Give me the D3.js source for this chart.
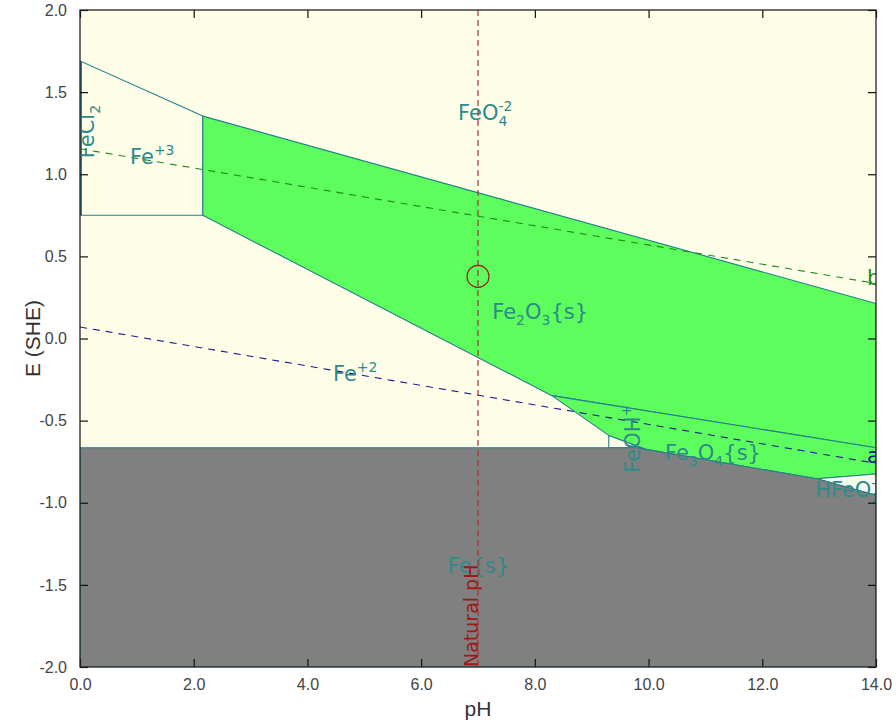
<!DOCTYPE html>
<html>
<head>
<meta charset="utf-8">
<script src="https://cdn.jsdelivr.net/npm/d3@7"></script>
<style>
  html, body { margin: 0; padding: 0; background: #ffffff; }
  svg { display: block; }
</style>
</head>
<body>
<svg id="chart" width="896" height="720"></svg>
<script>
// Pourbaix (E–pH) diagram for iron in water

// Axis ticks
const pHTicks = [0, 2, 4, 6, 8, 10, 12, 14];
const eTicks = [-2.0, -1.5, -1.0, -0.5, 0.0, 0.5, 1.0, 1.5, 2.0];

// Stability domains, as [pH, E] vertices
const regionFe3 = [[0, 1.69], [2.16, 1.354], [2.16, 0.75], [0, 0.75]];
const regionFe2O3 = [[2.16, 1.354], [14, 0.213], [14, -0.665], [8.3, -0.348], [2.16, 0.75]];
const regionFe3O4 = [[8.3, -0.348], [14, -0.665], [14, -0.825], [12.96, -0.854], [9.95, -0.675], [9.3, -0.59]];
const regionFeOH = [[9.3, -0.59], [9.95, -0.675], [9.8, -0.665], [9.3, -0.665]];
const regionHFeO2 = [[12.96, -0.854], [14, -0.825], [14, -0.955]];
const regionFe = [[0, -0.665], [9.8, -0.665], [9.95, -0.675], [12.96, -0.854], [14, -0.955], [14, -2], [0, -2]];
const regionFeCl2 = [[0, 1.69], [0, 0.75]];

// Water stability lines: a (H2/H2O) and b (O2/H2O)
const waterLineA = [[0, 0.07], [14, -0.76]];
const waterLineB = [[0, 1.155], [14, 0.335]];

// Natural pH marker and the operating point
const naturalPH = 7.0;
const operatingPoint = [7.0, 0.378];

// Species labels: parts are [text, kind] with kind n/sub/sup/supover
const speciesLabels = [
  { at: [6.65, 1.33], parts: [["FeO", "n"], ["4", "sub"], ["-2", "supover"]] },
  { at: [0.88, 1.06], parts: [["Fe", "n"], ["+3", "sup"]] },
  { at: [7.25, 0.12], parts: [["Fe", "n"], ["2", "sub"], ["O", "n"], ["3", "sub"], ["{s}", "n"]] },
  { at: [4.45, -0.26], parts: [["Fe", "n"], ["+2", "sup"]] },
  { at: [10.29, -0.74], parts: [["Fe", "n"], ["3", "sub"], ["O", "n"], ["4", "sub"], ["{s}", "n"]] },
  { at: [12.93, -0.963], parts: [["HFeO", "n"], ["2", "sub"], ["-", "supover"]] },
  { at: [6.47, -1.43], parts: [["Fe{s}", "n"]] },
  { at: [9.85, -0.817], rotate: true, parts: [["FeOH", "n"], ["+", "sup"]] },
  { at: [0.25, 1.098], rotate: true, parts: [["FeCl", "n"], ["2", "sub"]] }
];
const lineLabels = [
  { at: [13.84, -0.756], text: "a", color: "#1c1c8c" },
  { at: [13.84, 0.323], text: "b", color: "#1d8a1d" }
];

const margin = { left: 80, right: 20, top: 10, bottom: 53 };
const W = 896, H = 720;
const svg = d3.select("#chart");

const x = d3.scaleLinear().domain([0, 14]).range([margin.left, W - margin.right]);
const y = d3.scaleLinear().domain([-2, 2]).range([H - margin.bottom, margin.top]);

const teal = "#25808a";
const textTeal = "#2f8a8a";
const labelFont = "DejaVu Sans, sans-serif";
const axisFont = "Liberation Sans, Arial, sans-serif";

svg.append("defs").append("clipPath").attr("id", "plotClip")
  .append("rect")
  .attr("x", x(0)).attr("y", y(2))
  .attr("width", x(14) - x(0)).attr("height", y(-2) - y(2));

const plot = svg.append("g").attr("clip-path", "url(#plotClip)");

// background domain (FeO4-2)
plot.append("rect")
  .attr("x", x(0)).attr("y", y(2))
  .attr("width", x(14) - x(0)).attr("height", y(-2) - y(2))
  .attr("fill", "#fefee8");

const poly = d3.line().x(d => x(d[0])).y(d => y(d[1])).curve(d3.curveLinearClosed);
const path = d3.line().x(d => x(d[0])).y(d => y(d[1]));

const regions = [
  [regionFe3, "#fefee8"],
  [regionFe2O3, "#5cfd5c"],
  [regionFe3O4, "#5cfd5c"],
  [regionFeOH, "#fefee8"],
  [regionHFeO2, "#f3fbee"],
  [regionFe, "#808080"]
];
regions.forEach(([pts, fill]) => {
  plot.append("path")
    .attr("d", poly(pts))
    .attr("fill", fill)
    .attr("stroke", teal)
    .attr("stroke-width", 1.1)
    .attr("stroke-linejoin", "round");
});

plot.append("path")
  .attr("d", path(regionFeCl2))
  .attr("stroke", teal)
  .attr("stroke-width", 4)
  .attr("fill", "none");

// water lines
plot.append("path").attr("d", path(waterLineB))
  .attr("stroke", "#1d8a1d").attr("stroke-width", 1.1)
  .attr("stroke-dasharray", "7,6").attr("fill", "none");
plot.append("path").attr("d", path(waterLineA))
  .attr("stroke", "#1c1c8c").attr("stroke-width", 1.1)
  .attr("stroke-dasharray", "7,6").attr("fill", "none");

// species labels with sub/superscripts
function addLabel(g, lab) {
  const px = x(lab.at[0]), py = y(lab.at[1]);
  const t = g.append("text")
    .attr("font-family", labelFont)
    .attr("font-size", 21)
    .attr("fill", textTeal)
    .attr("transform", lab.rotate ? `translate(${px},${py}) rotate(-90)` : `translate(${px},${py})`);
  lab.parts.forEach(([txt, kind]) => {
    const ts = t.append("tspan").text(txt).attr("data-kind", kind);
    if (kind !== "n") ts.attr("font-size", 14);
  });
  const spans = t.selectAll("tspan").nodes();
  let level = 0;
  spans.forEach((node, i) => {
    const kind = node.getAttribute("data-kind");
    let target = 0;
    if (kind === "sub") target = 6;
    else if (kind === "sup" || kind === "supover") target = -9;
    node.setAttribute("dy", target - level);
    level = target;
    if (kind === "supover" && i > 0) {
      const prev = spans[i - 1];
      if (prev.getAttribute("data-kind") === "sub") {
        node.setAttribute("dx", -prev.getComputedTextLength());
      }
    }
  });
}
speciesLabels.forEach(lab => addLabel(plot, lab));

lineLabels.forEach(l => {
  plot.append("text")
    .attr("x", x(l.at[0])).attr("y", y(l.at[1]))
    .attr("font-family", labelFont)
    .attr("font-size", 21)
    .attr("fill", l.color)
    .text(l.text);
});

// natural pH line and marker
plot.append("line")
  .attr("x1", x(naturalPH)).attr("x2", x(naturalPH))
  .attr("y1", y(2)).attr("y2", y(-2))
  .attr("stroke", "#a83232").attr("stroke-width", 1.2)
  .attr("stroke-dasharray", "6,4");
plot.append("circle")
  .attr("cx", x(operatingPoint[0])).attr("cy", y(operatingPoint[1]))
  .attr("r", 11)
  .attr("fill", "none").attr("stroke", "#9a1a1a").attr("stroke-width", 1.1);
plot.append("text")
  .attr("transform", `translate(${x(naturalPH)},${y(-2)}) rotate(-90)`)
  .attr("font-family", labelFont)
  .attr("font-size", 19)
  .attr("fill", "#a01818")
  .text("Natural pH");

// frame and axes
const axisG = svg.append("g");
const fmt = v => d3.format(".1f")(v).replace("\u2212", "-");
const xAxis = axisG.append("g")
  .attr("transform", `translate(0,${y(-2)})`)
  .call(d3.axisBottom(x).tickValues(pHTicks).tickFormat(fmt).tickSizeInner(-8).tickSizeOuter(0).tickPadding(12));
const xTop = axisG.append("g")
  .attr("transform", `translate(0,${y(2)})`)
  .call(d3.axisTop(x).tickValues(pHTicks).tickFormat("").tickSizeInner(-8).tickSizeOuter(0));
const yAxis = axisG.append("g")
  .attr("transform", `translate(${x(0)},0)`)
  .call(d3.axisLeft(y).tickValues(eTicks).tickFormat(fmt).tickSizeInner(-8).tickSizeOuter(0).tickPadding(13));
const yRight = axisG.append("g")
  .attr("transform", `translate(${x(14)},0)`)
  .call(d3.axisRight(y).tickValues(eTicks).tickFormat("").tickSizeInner(-8).tickSizeOuter(0));

[xAxis, xTop, yAxis, yRight].forEach(g => {
  g.select(".domain").remove();
  g.selectAll(".tick line").attr("stroke", "#111").attr("stroke-width", 1.2);
  g.selectAll(".tick text")
    .attr("font-family", axisFont)
    .attr("font-size", 16)
    .attr("fill", "#444");
});

axisG.append("rect")
  .attr("x", x(0)).attr("y", y(2))
  .attr("width", x(14) - x(0)).attr("height", y(-2) - y(2))
  .attr("fill", "none").attr("stroke", "#222").attr("stroke-width", 1.3);

svg.append("text")
  .attr("x", (x(0) + x(14)) / 2).attr("y", 716)
  .attr("text-anchor", "middle")
  .attr("font-family", axisFont)
  .attr("font-size", 21)
  .attr("fill", "#333")
  .text("pH");

svg.append("text")
  .attr("transform", `translate(${40},${(y(2) + y(-2)) / 2}) rotate(-90)`)
  .attr("text-anchor", "middle")
  .attr("font-family", axisFont)
  .attr("font-size", 21)
  .attr("fill", "#333")
  .text("E (SHE)");
</script>
</body>
</html>
